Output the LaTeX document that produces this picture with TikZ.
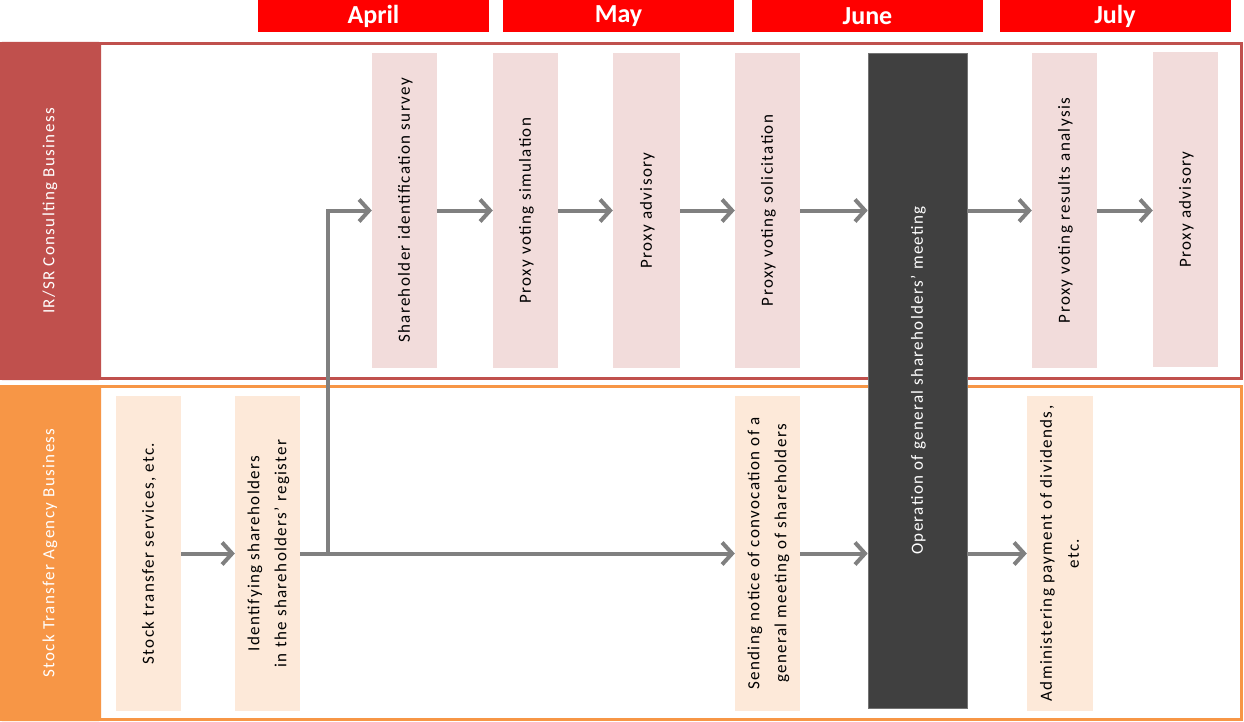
\documentclass[tikz,border=0pt]{standalone}
\usepackage{fontspec}
\setmainfont{Carlito}
\newfontfamily\spacedfont[LetterSpace=8, Ligatures=TeX]{Carlito}
\usepackage{tikz}
\usetikzlibrary{arrows.meta, positioning}
\usepackage{xcolor}
\definecolor{irred}{RGB}{192,80,77}
\definecolor{staorange}{RGB}{247,150,70}
\definecolor{irpink}{RGB}{242,220,219}
\definecolor{stapeach}{RGB}{253,233,217}
\definecolor{meetgray}{RGB}{64,64,64}
\definecolor{flowgray}{RGB}{128,128,128}
\definecolor{monthred}{RGB}{255,0,0}
\newcommand{\vlabel}[1]{\rotatebox{90}{\begin{tabular}{@{}c@{}}#1\end{tabular}}}

\begin{document}
\begin{tikzpicture}[x=1pt, y=-1pt,
    month/.style={fill=monthred, text=white, inner sep=0pt,
      minimum width=231pt, minimum height=32pt,
      font=\fontsize{26}{30}\selectfont\bfseries},
    lane/.style={inner sep=0pt, minimum width=101pt, minimum height=338pt,
      text=white, rounded corners=2pt,
      font=\spacedfont\fontsize{17}{20}\selectfont},
    irstep/.style={fill=irpink, inner sep=0pt, minimum width=65pt,
      minimum height=315pt, font=\spacedfont\fontsize{17}{27}\selectfont},
    stastep/.style={irstep, fill=stapeach},
    flow/.style={draw=flowgray, line width=4pt,
      -{Straight Barb[length=10pt, width=22pt]}}]
  \useasboundingbox (0,0) rectangle (1244,722);

  % Months
  \node[month] (apr) at (373.5,16) {April};
  \node[month] (may) at (618.5,16) {May};
  \node[month] (jun) at (867.5,16) {June};
  \node[month] (jul) at (1115,16) {July};

  % Swim lanes
  \draw[irred, line width=3pt, fill=white] (1.5,43.5) rectangle (1241.5,378.5);
  \node[lane, fill=irred] (irlane) at (50.5,211) {\vlabel{IR/SR Consulting Business}};
  \draw[staorange, line width=3pt, fill=white] (1.5,386.5) rectangle (1241.5,719.5);
  \node[lane, fill=staorange, minimum height=336pt] (stalane) at (50.5,553)
    {\vlabel{Stock Transfer Agency Business}};

  % IR/SR steps
  \node[irstep] (survey) at (404.5,210.5) {\vlabel{Shareholder identification\ survey}};
  \node[irstep] (sim) at (525.5,210.5) {\vlabel{Proxy voting simulation}};
  \node[irstep, minimum width=67pt] (adv) at (646.5,210.5) {\vlabel{Proxy advisory}};
  \node[irstep] (solic) at (767.5,210.5) {\vlabel{Proxy voting solicitation}};
  \node[irstep] (results) at (1064.5,210.5) {\vlabel{Proxy voting results analysis}};
  \node[irstep] (advlate) at (1185.5,209.5) {\vlabel{Proxy advisory}};

  % Stock transfer steps
  \node[stastep] (stock) at (148.5,553.5) {\vlabel{Stock transfer services, etc.}};
  \node[stastep] (ident) at (267.5,553.5)
    {\vlabel{Identifying shareholders\\in the shareholders’ register}};
  \node[stastep] (notice) at (767.5,553.5)
    {\vlabel{Sending notice of\ convocation\ of a\\general meeting\ of\ shareholders}};
  \node[stastep, minimum width=66pt] (divid) at (1060,553.5)
    {\vlabel{Administering payment of\ dividends,\\etc.}};

  % General meeting spans both lanes
  \node[fill=meetgray, draw=black!55, line width=0.6pt, inner sep=0pt,
        minimum width=99pt, minimum height=655pt, text=white,
        font=\spacedfont\fontsize{17}{27}\selectfont] (meet) at (917.5,380.5)
    {\vlabel{Operation of general shareholders’ meeting}};

  % Flow arrows
  \draw[flow] (survey) -- (sim);
  \draw[flow] (sim) -- (adv);
  \draw[flow] (adv) -- (solic);
  \draw[flow] (solic.east) -- (solic.east -| meet.west);
  \draw[flow] (meet.east |- results.west) -- (results.west);
  \draw[flow] (results.east) -- (results.east -| advlate.west);

  \draw[flow] (stock) -- (ident);
  \draw[flow] (ident) -- (notice);
  \draw[flow] (notice.east) -- (notice.east -| meet.west);
  \draw[flow] (meet.east |- divid.west) -- (divid.west);

  \coordinate (fork) at ([xshift=28pt]ident.east);
  \draw[flow] (fork) |- (survey);
\end{tikzpicture}
\end{document}
